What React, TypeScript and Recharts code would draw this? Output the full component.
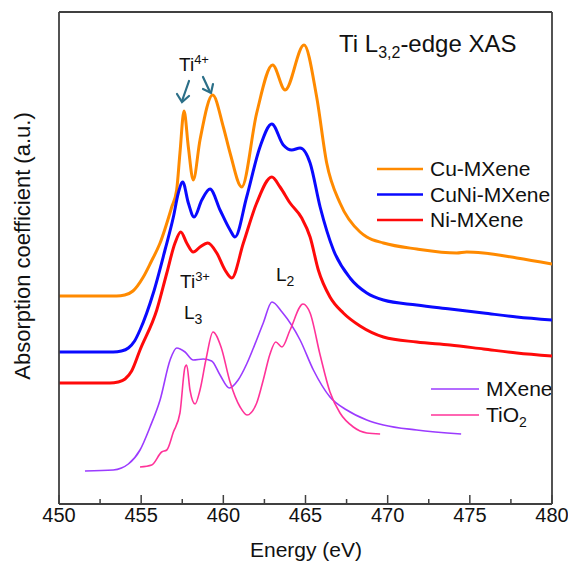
import React from 'react'
import { LineChart, Line, XAxis, YAxis, ReferenceLine } from 'recharts'

// Energy (eV) and absorption (a.u.)
const cuE = [450, 453.5, 454.0, 454.5, 455.13, 455.6, 456.15, 456.86, 457.16, 457.36, 457.61, 457.87, 458.17, 458.58, 459.35, 460.0, 460.41, 461.12, 462.03, 463.0, 463.76, 464.91, 465.68, 466.29, 467.1, 468.32, 468.73, 469.74, 471.77, 474.2, 474.81, 475.83, 477.86, 480]
const cuV = [208, 208, 209, 213, 227, 242, 261, 297, 314, 351, 393, 357, 324, 364, 409, 377, 351, 317, 391, 439, 414, 459, 407, 341, 301, 272, 267, 261, 255, 251, 252, 251, 246, 240]

const cuNiE = [450, 453.3, 453.8, 454.22, 454.6, 454.93, 455.74, 456.45, 456.96, 457.26, 457.53, 457.87, 458.22, 458.69, 459.19, 459.8, 460.41, 460.71, 461.42, 462.23, 462.95, 463.65, 464.16, 464.67, 465.28, 465.89, 466.7, 467.71, 468.73, 469.74, 471.77, 473.8, 475.83, 477.86, 480]
const cuNiV = [152, 152, 153, 156, 163, 174, 211, 254, 287, 311, 322, 301, 287, 304, 315, 294, 274, 267, 307, 357, 380, 359, 354, 356, 341, 297, 254, 226, 211, 204, 199, 195, 191, 187, 184]

const niE = [450, 453.1, 453.6, 454.02, 454.42, 454.93, 455.95, 456.56, 457.06, 457.41, 457.77, 458.17, 458.58, 459.05, 459.6, 460.1, 460.51, 461.22, 462.03, 462.95, 463.45, 464.06, 464.77, 465.28, 465.78, 466.49, 467.3, 468.32, 469.74, 471.77, 473.8, 475.83, 477.86, 480]
const niV = [121, 121, 122, 125, 133, 154, 194, 231, 261, 272, 261, 252, 257, 261, 251, 234, 226, 261, 301, 327, 317, 301, 286, 267, 234, 207, 191, 178, 167, 162, 159, 155, 151, 148]

const mxE = [451.58, 453.3, 453.8, 454.22, 454.93, 455.54, 456.15, 456.76, 457.16, 457.67, 458.17, 458.78, 459.29, 459.8, 460.37, 460.9, 461.42, 461.83, 462.43, 462.96, 463.57, 464.67, 465.48, 466.49, 467.51, 468.73, 469.74, 471.77, 474.47]
const mxV = [33, 34, 36, 40, 54, 77, 104, 144, 156, 152, 144, 145, 143, 129, 116, 124, 140, 156, 181, 202, 192, 164, 134, 107, 94, 84, 79, 74, 70]

const tiE = [454.93, 455.64, 456.25, 456.56, 456.96, 457.36, 457.67, 457.77, 457.97, 458.28, 458.58, 458.95, 459.37, 459.86, 460.41, 461.02, 461.44, 462.03, 462.43, 462.84, 463.19, 463.57, 464.06, 464.85, 465.28, 465.89, 466.49, 467.1, 467.91, 468.73, 469.54]
const tiV = [37, 39, 52, 54, 72, 91, 137, 139, 114, 100, 114, 145, 172, 157, 122, 97, 89, 101, 124, 150, 162, 157, 174, 200, 191, 149, 112, 91, 77, 71, 70]

const xTicks = [450, 452.5, 455, 457.5, 460, 462.5, 465, 467.5, 470, 472.5, 475, 477.5, 480]

const toPoints = (e: number[], v: number[]) => e.map((x, i) => ({ e: x, v: v[i] }))

const series = [
  { name: 'Cu-MXene', color: '#FF8A00', width: 3, points: toPoints(cuE, cuV) },
  { name: 'CuNi-MXene', color: '#0A0AFF', width: 3, points: toPoints(cuNiE, cuNiV) },
  { name: 'Ni-MXene', color: '#FF0A0A', width: 3, points: toPoints(niE, niV) },
  { name: 'MXene', color: '#9B3BFF', width: 1.6, points: toPoints(mxE, mxV) },
  { name: 'TiO2', color: '#FF3399', width: 1.6, points: toPoints(tiE, tiV) },
]

const axisColor = '#404040'
const font = '"Liberation Sans", Arial, sans-serif'
const arrowColor = '#2B6F88'

const EnergyTick = ({ x, y, payload }: any) => {
  const major = payload.value % 5 === 0
  return (
    <g>
      <line x1={x} x2={x} y1={y} y2={y - (major ? 9 : 5)} stroke={axisColor} strokeWidth={1.5} />
      {major && (
        <text x={x} y={y + 18} textAnchor="middle" fontSize={20} fill="#111" fontFamily={font}>
          {payload.value}
        </text>
      )}
    </g>
  )
}

export default function App() {
  return (
    <div style={{ position: 'absolute', left: 0, top: 0, fontFamily: font }}>
      <LineChart width={568} height={564} margin={{ top: 12, right: 16, left: 0, bottom: 0 }}>
        <XAxis
          dataKey="e"
          type="number"
          domain={[450, 480]}
          ticks={xTicks}
          interval={0}
          tickSize={0}
          tickMargin={0}
          tick={<EnergyTick />}
          height={60}
          axisLine={{ stroke: axisColor, strokeWidth: 1.8 }}
          allowDataOverflow
        />
        <YAxis
          type="number"
          domain={[0, 492]}
          width={59}
          tick={false}
          tickLine={false}
          axisLine={{ stroke: axisColor, strokeWidth: 1.8 }}
        />
        <ReferenceLine y={492} stroke={axisColor} strokeWidth={1.8} />
        <ReferenceLine x={480} stroke={axisColor} strokeWidth={1.8} />
        {series.map(s => (
          <Line
            key={s.name}
            data={s.points}
            dataKey="v"
            type="monotone"
            stroke={s.color}
            strokeWidth={s.width}
            dot={false}
            isAnimationActive={false}
          />
        ))}

        <text x={30} y={246} transform="rotate(-90 30 246)" textAnchor="middle" fontSize={22} fill="#111" fontFamily={font}>
          Absorption coefficient (a.u.)
        </text>
        <text x={306} y={557} textAnchor="middle" fontSize={21} fill="#111" fontFamily={font}>
          Energy (eV)
        </text>

        <text x={339} y={52} fontSize={24} fill="#111" fontFamily={font}>
          Ti L<tspan fontSize={16} dy={6}>3,2</tspan><tspan dy={-6}>-edge XAS</tspan>
        </text>

        <text x={179} y={71} fontSize={19} fill="#111" fontFamily={font}>
          Ti<tspan fontSize={13} dy={-7}>4+</tspan>
        </text>
        <g stroke={arrowColor} strokeWidth={2.2} fill="none" strokeLinecap="round">
          <path d="M189 81 L182 101" />
          <path d="M177 94 L182 102 L189 96" />
          <path d="M203 77 L210 92" />
          <path d="M203 89 L211 93 L213 84" />
        </g>

        <text x={180} y={288} fontSize={19} fill="#111" fontFamily={font}>
          Ti<tspan fontSize={13} dy={-7}>3+</tspan>
        </text>
        <text x={184} y={319} fontSize={19} fill="#111" fontFamily={font}>
          L<tspan fontSize={14} dy={5}>3</tspan>
        </text>
        <text x={276} y={281} fontSize={19} fill="#111" fontFamily={font}>
          L<tspan fontSize={14} dy={5}>2</tspan>
        </text>

        {series.slice(0, 3).map((s, i) => (
          <g key={s.name}>
            <line x1={377} x2={423} y1={169 + i * 25.5} y2={169 + i * 25.5} stroke={s.color} strokeWidth={2.5} />
            <text x={430} y={176 + i * 25.5} fontSize={21} fill="#111" fontFamily={font}>{s.name}</text>
          </g>
        ))}
        {series.slice(3).map((s, i) => (
          <g key={s.name}>
            <line x1={431} x2={479} y1={389 + i * 26} y2={389 + i * 26} stroke={s.color} strokeWidth={1.6} />
            <text x={486} y={396 + i * 26} fontSize={21} fill="#111" fontFamily={font}>
              {s.name === 'TiO2' ? (<>TiO<tspan fontSize={14} dy={5}>2</tspan></>) : s.name}
            </text>
          </g>
        ))}
      </LineChart>
    </div>
  )
}
